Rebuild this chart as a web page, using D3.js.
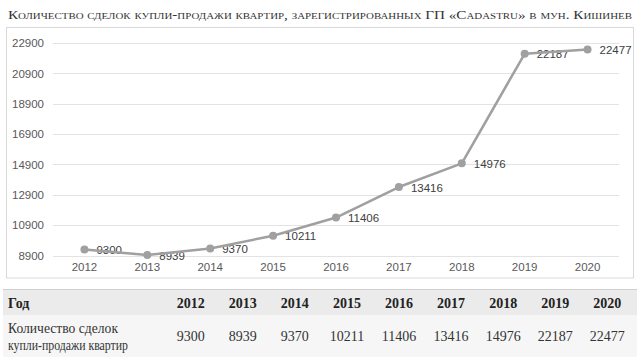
<!DOCTYPE html>
<html><head><meta charset="utf-8">
<script src="https://cdn.jsdelivr.net/npm/d3@7"></script>
<style>
html,body{margin:0;padding:0;background:#fff;}
svg{display:block;}
</style></head>
<body>
<svg id="c" width="640" height="359"></svg>
<script>
const title = "Количество сделок купли-продажи квартир, зарегистрированных ГП «Cadastru» в мун. Кишинев";
const years = ["2012","2013","2014","2015","2016","2017","2018","2019","2020"];
const values = [9300, 8939, 9370, 10211, 11406, 13416, 14976, 22187, 22477];
const yTicks = [8900, 10900, 12900, 14900, 16900, 18900, 20900, 22900];
const tableHeader = "Год";
const rowLabel = ["Количество сделок", "купли-продажи квартир"];

const svg = d3.select("#c");

// Title
svg.append("text")
  .attr("x", 8).attr("y", 19)
  .attr("textLength", 624).attr("lengthAdjust", "spacingAndGlyphs")
  .style("font-family", "'Liberation Serif', serif")
  .style("font-size", "12.5px")
  .style("font-variant", "small-caps")
  .style("fill", "#333")
  .text(title);

// Chart frame
svg.append("rect")
  .attr("x", 6.5).attr("y", 27.5).attr("width", 627).attr("height", 250.5)
  .attr("fill", "#fff").attr("stroke", "#d9d9d9");

const x = d3.scaleBand().domain(years).range([53, 619]);
const y = d3.scaleLinear().domain([8900, 22900]).range([255.6, 43]);

// gridlines
svg.append("g").selectAll("line").data(yTicks).join("line")
  .attr("x1", 53).attr("x2", 619)
  .attr("y1", d => Math.round(y(d)) + 0.5).attr("y2", d => Math.round(y(d)) + 0.5)
  .attr("stroke", "#e3e3e3").attr("stroke-width", 1);

// y axis labels
const yAxis = d3.axisLeft(y).tickValues(yTicks).tickSize(0).tickPadding(0).tickFormat(d => String(d));
const gy = svg.append("g").attr("transform", "translate(44,0)").call(yAxis);
gy.select(".domain").remove();
gy.selectAll("text")
  .style("font-family", "'Liberation Sans', sans-serif")
  .style("font-size", "11.5px").style("fill", "#595959");

// x axis labels
const xAxis = d3.axisBottom(x).tickSize(0).tickPadding(0);
const gx = svg.append("g").attr("transform", "translate(0,263)").call(xAxis);
gx.select(".domain").remove();
gx.selectAll("text")
  .style("font-family", "'Liberation Sans', sans-serif")
  .style("font-size", "11.5px").style("fill", "#595959");

const cx = d => x(d) + x.bandwidth() / 2;

// data labels (under the line)
svg.append("g").selectAll("text").data(values).join("text")
  .attr("x", (d, i) => cx(years[i]) + 12)
  .attr("y", d => y(d) + 4.5)
  .style("font-family", "'Liberation Sans', sans-serif")
  .style("font-size", "11.5px").style("fill", "#404040")
  .text(d => d);

// line
const line = d3.line().x((d, i) => cx(years[i])).y(d => y(d));
svg.append("path").datum(values)
  .attr("d", line).attr("fill", "none")
  .attr("stroke", "#a0a0a0").attr("stroke-width", 2.5).attr("stroke-linejoin", "round");

svg.append("g").selectAll("circle").data(values).join("circle")
  .attr("cx", (d, i) => cx(years[i])).attr("cy", d => y(d)).attr("r", 4)
  .attr("fill", "#a0a0a0");

// Table
const tx = d3.scaleBand().domain(years).range([164.6, 633.4]);
const tcx = d => tx(d) + tx.bandwidth() / 2;
svg.append("rect").attr("x", 3).attr("y", 290).attr("width", 634).attr("height", 25.5).attr("fill", "#ebebeb");
svg.append("rect").attr("x", 3).attr("y", 315.5).attr("width", 634).attr("height", 41.5).attr("fill", "#f6f6f6");
svg.append("line").attr("x1", 3).attr("x2", 637).attr("y1", 289.5).attr("y2", 289.5).attr("stroke", "#d0d0d0");

const serif = "'Liberation Serif', serif";
svg.append("text").attr("x", 8).attr("y", 307.5)
  .style("font-family", serif).style("font-size", "14px").style("font-weight", "bold").style("fill", "#222")
  .text(tableHeader);
svg.append("g").selectAll("text").data(years).join("text")
  .attr("x", d => tcx(d)).attr("y", 307.5).attr("text-anchor", "middle")
  .style("font-family", serif).style("font-size", "14px").style("font-weight", "bold").style("fill", "#222")
  .text(d => d);
svg.append("g").selectAll("text").data(values).join("text")
  .attr("x", (d, i) => tcx(years[i])).attr("y", 341).attr("text-anchor", "middle")
  .style("font-family", serif).style("font-size", "14px").style("fill", "#333")
  .text(d => d);
const rowLen = [110, 120];
svg.append("g").selectAll("text").data(rowLabel).join("text")
  .attr("x", 8).attr("y", (d, i) => 333 + i * 17)
  .attr("textLength", (d, i) => rowLen[i]).attr("lengthAdjust", "spacingAndGlyphs")
  .style("font-family", serif).style("font-size", "14px").style("fill", "#333")
  .text(d => d);
</script>
</body></html>
